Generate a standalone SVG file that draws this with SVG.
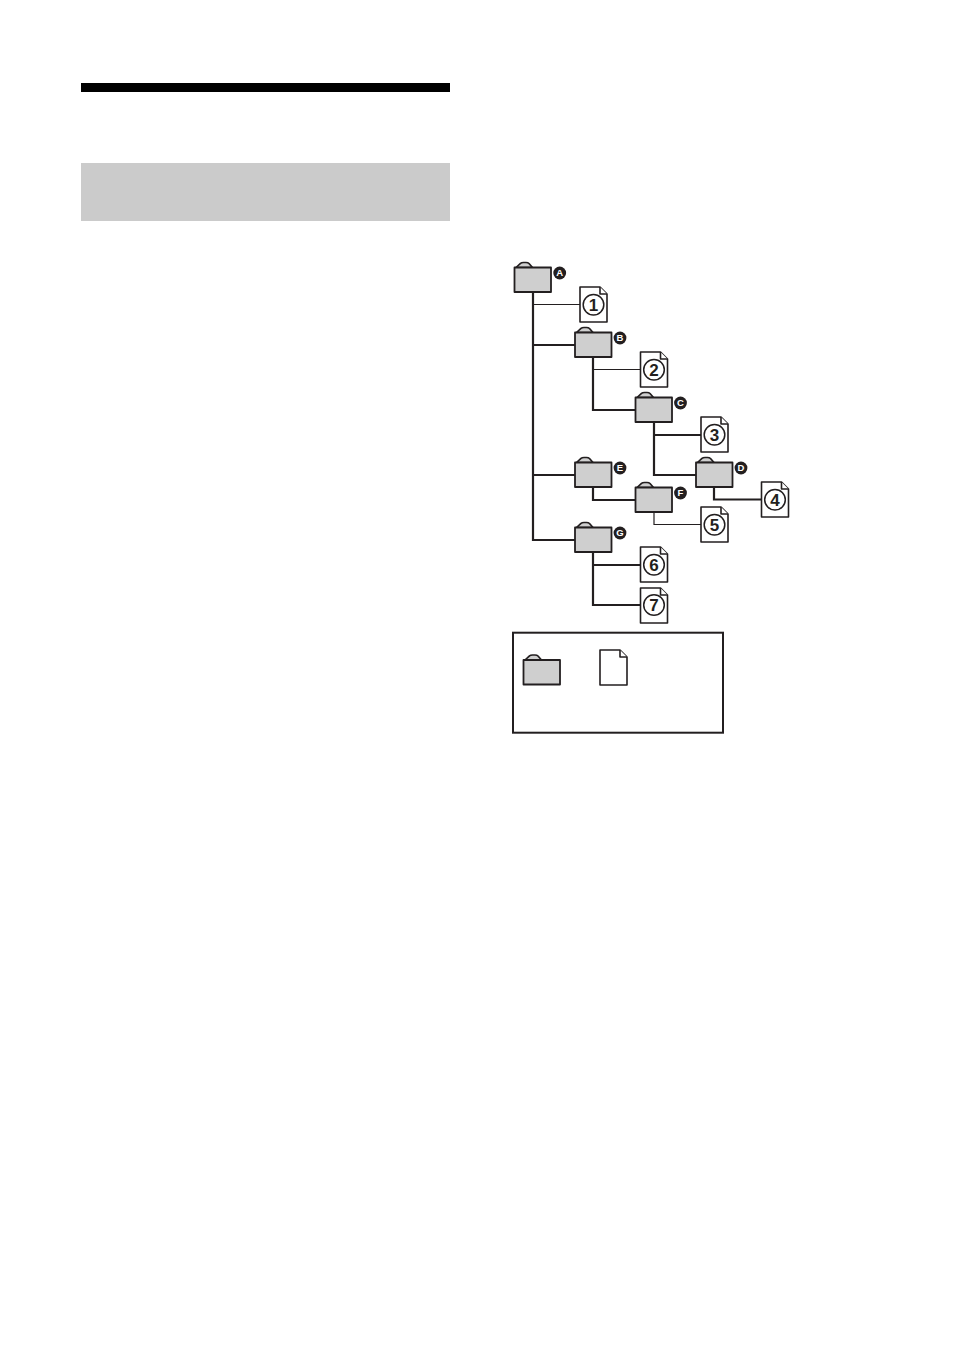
<svg xmlns="http://www.w3.org/2000/svg" xmlns:xlink="http://www.w3.org/1999/xlink" width="954" height="1355" viewBox="0 0 954 1355">
<style>
.f{fill:#cfcfcf;stroke:#231f20;stroke-width:1.8;stroke-linejoin:round}
.t{fill:#cfcfcf;stroke:#231f20;stroke-width:1.7;stroke-linejoin:round}
.d{fill:#fff;stroke:#231f20;stroke-width:1.6;stroke-linejoin:round}
.b{fill:none;stroke:#231f20;stroke-width:2.2}
.n{fill:none;stroke:#231f20;stroke-width:1.2}
.num{font-family:"Liberation Sans",Arial,sans-serif;font-size:17px;font-weight:700;fill:#231f20;text-anchor:middle}
.ltr{font-family:"Liberation Sans",Arial,sans-serif;font-size:9.500px;font-weight:700;fill:#fff;text-anchor:middle}
</style>
<defs>
<g id="folder">
<path class="t" d="M1.500 0 L6 -4.200 Q7 -5 9 -5 H11.500 Q13.500 -5 14.500 -4 L18 0 Z"/>
<rect class="f" x="0" y="0" width="36.500" height="24.500"/>
</g>
<g id="doc">
<path class="d" d="M0 0 H20 L27 7 V35 H0 Z"/>
<path class="d" d="M20 0 V7 H27"/>
</g>
<circle id="ring" r="10.300" fill="#fff" stroke="#231f20" stroke-width="1.500"/>
<circle id="dot" r="6.400" fill="#231f20"/>
</defs>
<rect width="954" height="1355" fill="#fff"/>
<rect id="top-bar" x="81" y="83" width="369" height="9" fill="#000"/>
<rect id="grey-band" x="81" y="163" width="369" height="58" fill="#cbcbcb"/>
<g id="connectors">
<path class="b" d="M533 291V540H575M533 345H575M533 475H575"/>
<path class="n" d="M533 304.500H580"/>
<path class="b" d="M593 357V410H636"/>
<path class="n" d="M593 369.500H640.500"/>
<path class="b" d="M654 422V475H696M654 435H701"/>
<path class="b" d="M593 487V500H636"/>
<path class="b" d="M714 487V499.500H761"/>
<path class="n" d="M654 512V524.500H701"/>
<path class="b" d="M593 552V605H640.500M593 565H640.500"/>
</g>
<g id="folder-a"><use xlink:href="#folder" x="514.500" y="267.500"/><use xlink:href="#dot" x="559.700" y="273"/><text class="ltr" x="559.700" y="276.400">A</text></g>
<g id="folder-b"><use xlink:href="#folder" x="575" y="332.500"/><use xlink:href="#dot" x="620" y="338"/><text class="ltr" x="620" y="341.400">B</text></g>
<g id="folder-c"><use xlink:href="#folder" x="635.500" y="397.500"/><use xlink:href="#dot" x="680.500" y="403"/><text class="ltr" x="680.500" y="406.400">C</text></g>
<g id="folder-d"><use xlink:href="#folder" x="696" y="462.500"/><use xlink:href="#dot" x="741" y="468"/><text class="ltr" x="741" y="471.400">D</text></g>
<g id="folder-e"><use xlink:href="#folder" x="575" y="462.500"/><use xlink:href="#dot" x="620" y="468"/><text class="ltr" x="620" y="471.400">E</text></g>
<g id="folder-f"><use xlink:href="#folder" x="635.500" y="487.500"/><use xlink:href="#dot" x="680.500" y="493"/><text class="ltr" x="680.500" y="496.400">F</text></g>
<g id="folder-g"><use xlink:href="#folder" x="575" y="527.500"/><use xlink:href="#dot" x="620" y="533"/><text class="ltr" x="620" y="536.400">G</text></g>
<g id="file-1"><use xlink:href="#doc" x="580" y="287"/><use xlink:href="#ring" x="593.500" y="304.800"/><text class="num" x="593.500" y="310.800">1</text></g>
<g id="file-2"><use xlink:href="#doc" x="640.500" y="352"/><use xlink:href="#ring" x="654" y="369.800"/><text class="num" x="654" y="375.800">2</text></g>
<g id="file-3"><use xlink:href="#doc" x="701" y="417"/><use xlink:href="#ring" x="714.500" y="434.800"/><text class="num" x="714.500" y="440.800">3</text></g>
<g id="file-4"><use xlink:href="#doc" x="761.500" y="482"/><use xlink:href="#ring" x="775" y="499.800"/><text class="num" x="775" y="505.800">4</text></g>
<g id="file-5"><use xlink:href="#doc" x="701" y="507"/><use xlink:href="#ring" x="714.500" y="524.800"/><text class="num" x="714.500" y="530.800">5</text></g>
<g id="file-6"><use xlink:href="#doc" x="640.500" y="547"/><use xlink:href="#ring" x="654" y="564.800"/><text class="num" x="654" y="570.800">6</text></g>
<g id="file-7"><use xlink:href="#doc" x="640.500" y="588"/><use xlink:href="#ring" x="654" y="605"/><text class="num" x="654" y="611">7</text></g>
<g id="legend">
<rect x="513" y="632.700" width="210" height="100" fill="#fff" stroke="#231f20" stroke-width="2"/>
<use xlink:href="#folder" x="523.500" y="660"/>
<use xlink:href="#doc" x="600" y="650"/>
</g>
</svg>
